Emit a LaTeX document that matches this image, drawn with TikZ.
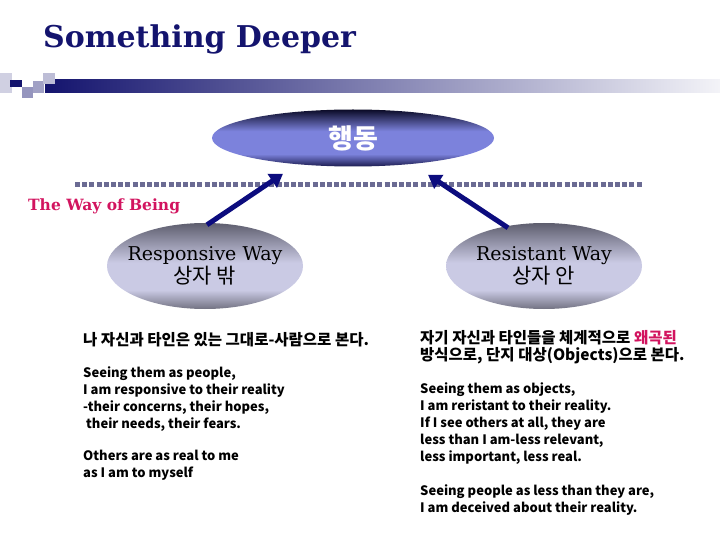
\documentclass[tikz,border=0pt]{standalone}
\usepackage{fontspec}
\setmainfont{DejaVu Serif}
\newfontfamily\krfont{Noto Sans CJK KR}
\usetikzlibrary{arrows.meta,calc,shapes.geometric}

\definecolor{navy}{HTML}{14146E}
\definecolor{arrowblue}{HTML}{0C0C7E}
\definecolor{dotgray}{HTML}{6B6B93}
\definecolor{crim}{HTML}{D2145F}
\definecolor{actdark}{HTML}{0A0A26}
\definecolor{actlow}{HTML}{1C1C50}
\definecolor{actmid}{HTML}{7C82DC}
\definecolor{waydark}{HTML}{5E5E6E}
\definecolor{waylow}{HTML}{727282}
\definecolor{waymid}{HTML}{CACAE4}

\pgfdeclareverticalshading{actshade}{100bp}{color(0bp)=(actlow); color(25bp)=(actlow);
  color(36bp)=(actmid); color(56bp)=(actmid); color(75bp)=(actdark); color(100bp)=(actdark)}
\pgfdeclareverticalshading{wayshade}{100bp}{color(0bp)=(waylow); color(25bp)=(waylow);
  color(36bp)=(waymid); color(52bp)=(waymid); color(75bp)=(waydark); color(100bp)=(waydark)}

\begin{document}
\begin{tikzpicture}[x=1pt,y=-1pt,
  act/.style={ellipse,minimum width=282pt,minimum height=57pt,inner sep=0pt,
    shade,shading=actshade,text=white,font=\krfont\bfseries\fontsize{27}{27}\selectfont},
  way/.style={ellipse,minimum width=196pt,minimum height=86pt,inner xsep=-14pt,inner ysep=0pt,
    shade,shading=wayshade,align=center,font=\fontsize{19}{21}\selectfont},
  arr/.style={draw=arrowblue,line width=5pt,-{Triangle[length=13pt,width=16pt]}},
  dotline/.style={draw=dotgray,line width=5pt,dash pattern=on 5pt off 2.2pt},
  body/.style={anchor=north west,inner sep=0pt,align=left,
    font=\krfont\bfseries\fontsize{13}{17}\selectfont},
  krline/.style={body,font=\krfont\bfseries\fontsize{15.5}{17}\selectfont}]
\useasboundingbox (0,0) rectangle (720,540);

% title and bar
\node[anchor=base west,inner sep=0pt,text=navy,font=\bfseries\fontsize{30}{30}\selectfont]
  (title) at (43,48) {Something Deeper};
\shade[left color=navy,right color=white!95!navy] (45,80) rectangle (720,93);
\fill[navy!20] (0,73) rectangle (12,93);
\fill[navy!45] (22,87) rectangle (33,98);
\fill[navy!40] (33,81) rectangle (44,93);
\fill[navy!28] (43,73) rectangle (55,84);
\fill[navy] (10,80) rectangle (22,87);

% ellipses
\node[act] (act) at (353,138) {행동};
\node[way] (resp) at (205,266) {Responsive Way\\{\krfont\fontsize{21}{21}\selectfont 상자 밖}};
\node[way] (resi) at (544,266) {Resistant Way\\{\krfont\fontsize{21}{21}\selectfont 상자 안}};

\coordinate (dl) at (75,185);
\coordinate (dr) at (642,185);
\draw[dotline] (dl) -- (dr);
\node[anchor=base west,inner sep=0pt,text=crim,font=\bfseries\fontsize{15.5}{15.5}\selectfont]
  (being) at (28,211) {The Way of Being};

\draw[arr] ($(resp.north)+(2,2)$) -- ($(act.south)+(-70,7)$);
\draw[arr] ($(resi.north)+(-36,5)$) -- ($(act.south)+(75,8)$);

% texts
\node[krline] (lkr) at (83,332) {나 자신과 타인은 있는 그대로-사람으로 본다.};
\node[body] (la) at (83,366) {Seeing them as people,\\I am responsive to their reality\\-their concerns, their hopes,\\\ their needs, their fears.};
\node[body] (lb) at (83,450) {Others are as real to me\\as I am to myself};
\node[krline] (rkr) at (420,330)
  {자기 자신과 타인들을 체계적으로 \textcolor{crim}{왜곡된}\\방식으로, 단지 대상(Objects)으로 본다.};
\node[body] (ra) at (420,382) {Seeing them as objects,\\I am reristant to their reality.\\If I see others at all, they are\\less than I am-less relevant,\\less important, less real.};
\node[body] (rb) at (420,484) {Seeing people as less than they are,\\I am deceived about their reality.};
\end{tikzpicture}
\end{document}
